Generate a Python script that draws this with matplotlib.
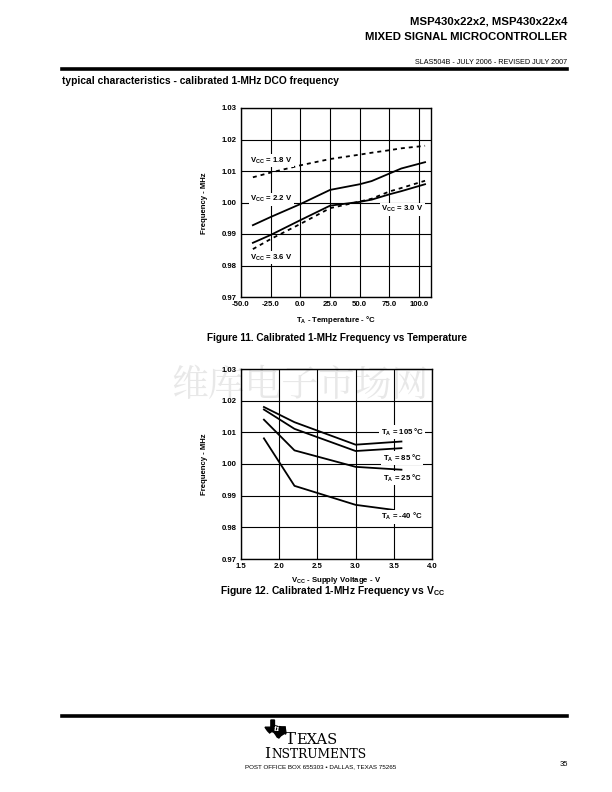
import numpy as np
import matplotlib
matplotlib.use("Agg")
import matplotlib.pyplot as plt
from matplotlib.patches import Polygon

plt.rcParams['font.family'] = ['Liberation Sans', 'DejaVu Sans']
plt.rcParams['font.weight'] = 'bold'
plt.rcParams['axes.unicode_minus'] = False
plt.rcParams['mathtext.fontset'] = 'custom'
plt.rcParams['mathtext.rm'] = 'Liberation Sans:bold'
plt.rcParams['mathtext.default'] = 'rm'

# Figure 11 data: frequency vs temperature
temp_c = [-40, -25, 0, 25, 50, 60, 75, 85, 105]
f_vcc18 = [1.0080, 1.0095, 1.0118, 1.0138, 1.0152, 1.0158, 1.0166, 1.0172, 1.0180]
f_vcc22 = [0.9928, 0.9954, 0.9995, 1.0040, 1.0058, 1.0068, 1.0092, 1.0108, 1.0128]
f_vcc30 = [0.9872, 0.9897, 0.9944, 0.9990, 1.0002, 1.0009, 1.0026, 1.0036, 1.0058]
f_vcc36 = [0.9852, 0.9884, 0.9932, 0.9982, 1.0003, 1.0012, 1.0035, 1.0046, 1.0069]

# Figure 12 data: frequency vs supply voltage
vcc = [1.8, 2.2, 3.0, 3.6]
vcc_m40 = [1.8, 2.2, 3.0, 3.5]
f_t105 = [1.0180, 1.0132, 1.0061, 1.0071]
f_t85 = [1.0172, 1.0111, 1.0041, 1.0050]
f_t25 = [1.0140, 1.0043, 0.9991, 0.9982]
f_tm40 = [1.0081, 0.9931, 0.9871, 0.9855]

yticks = [0.97, 0.98, 0.99, 1.00, 1.01, 1.02, 1.03]
xticks11 = [-50, -25, 0, 25, 50, 75, 100]
xticks12 = [1.5, 2.0, 2.5, 3.0, 3.5, 4.0]

W, H = 612, 792
fig = plt.figure(figsize=(W / 100, H / 100), dpi=100)


def fx(x):
    return x / W


def fy(y):
    return 1 - y / H


def px_axes(l, t, r, b):
    ax = fig.add_axes([fx(l), fy(b), (r - l) / W, (b - t) / H])
    ax.patch.set_alpha(0)
    return ax


def style_axes(ax, xticks, xlabels):
    ax.set_ylim(0.97, 1.03)
    ax.set_yticks(yticks)
    ax.set_yticklabels([f"{v:.2f}" for v in yticks])
    ax.set_xticks(xticks)
    ax.set_xticklabels(xlabels)
    ax.tick_params(length=0, labelsize=5.6, pad=3)
    ax.grid(True, color="black", linewidth=0.8)
    for s in ax.spines.values():
        s.set_linewidth(1.0)


dash = (0, (2.2, 2.2))
lw = 1.3
box = dict(facecolor="white", edgecolor="none", pad=1.0)

# ---- header ----
fig.text(fx(567), fy(22), "MSP430x22x2, MSP430x22x4", ha="right", va="center", fontsize=8.2)
fig.text(fx(567), fy(37), "MIXED SIGNAL MICROCONTROLLER", ha="right", va="center", fontsize=8.2)
fig.text(fx(567), fy(62), "SLAS504B - JULY 2006 - REVISED JULY 2007", ha="right",
         va="center", fontsize=5.2, fontweight="normal")
fig.add_artist(plt.Line2D([fx(62), fx(567)], [fy(68.5), fy(68.5)], color="black", lw=2.6))
fig.text(fx(62), fy(81), "typical characteristics - calibrated 1-MHz DCO frequency",
         ha="left", va="center", fontsize=7.4)

# ---- Figure 11 ----
ax1 = px_axes(241, 108, 431, 297)
ax1.plot(temp_c, f_vcc18, color="black", lw=lw, ls=dash)
ax1.plot(temp_c, f_vcc22, color="black", lw=lw)
ax1.plot(temp_c, f_vcc30, color="black", lw=lw)
ax1.plot(temp_c, f_vcc36, color="black", lw=lw, ls=dash)
ax1.set_xlim(-50, 110)
style_axes(ax1, xticks11, [f"{v:.1f}" for v in xticks11])
ax1.text(-24.7, 1.0132, r"V$_{CC}$ = 1.8 V", fontsize=5.6, ha="center", va="center", bbox=box)
ax1.text(-24.7, 1.0011, r"V$_{CC}$ = 2.2 V", fontsize=5.6, ha="center", va="center", bbox=box)
ax1.text(85.6, 0.9979, r"V$_{CC}$ = 3.0 V", fontsize=5.6, ha="center", va="center", bbox=box)
ax1.text(-24.7, 0.9824, r"V$_{CC}$ = 3.6 V", fontsize=5.6, ha="center", va="center", bbox=box)
fig.text(fx(204), fy(203), "Frequency - MHz", rotation=90, ha="center", va="center", fontsize=5.6)
fig.text(fx(336), fy(320), r"T$_A$ - Temperature - °C", ha="center", va="center", fontsize=5.6)
fig.text(fx(337), fy(338), "Figure 11. Calibrated 1-MHz Frequency vs Temperature",
         ha="center", va="center", fontsize=7.2)

# ---- watermark ----
fig.text(fx(300), fy(386), "维库电子市场网", ha="center", va="center", fontsize=26.5,
         color="#e8e8e8", fontweight="normal", zorder=-5,
         family=['Noto Serif CJK SC', 'Noto Sans CJK SC'])

# ---- Figure 12 ----
ax2 = px_axes(241, 369, 432, 559)
ax2.plot(vcc, f_t105, color="black", lw=lw)
ax2.plot(vcc, f_t85, color="black", lw=lw)
ax2.plot(vcc, f_t25, color="black", lw=lw)
ax2.plot(vcc_m40, f_tm40, color="black", lw=lw)
ax2.set_xlim(1.5, 4.0)
style_axes(ax2, xticks12, [f"{v:.1f}" for v in xticks12])
ax2.text(3.61, 1.0101, r"T$_A$ = 105 °C", fontsize=5.6, ha="center", va="center", bbox=box, clip_on=False)
ax2.text(3.61, 1.0019, r"T$_A$ = 85 °C", fontsize=5.6, ha="center", va="center", bbox=box)
ax2.text(3.61, 0.9956, r"T$_A$ = 25 °C", fontsize=5.6, ha="center", va="center", bbox=box)
ax2.text(3.61, 0.9833, r"T$_A$ = -40 °C", fontsize=5.6, ha="center", va="center", bbox=box)
fig.text(fx(204), fy(464), "Frequency - MHz", rotation=90, ha="center", va="center", fontsize=5.6)
fig.text(fx(336), fy(580), r"V$_{CC}$ - Supply Voltage - V", ha="center", va="center", fontsize=5.6)
fig.text(fx(333), fy(591), r"Figure 12. Calibrated 1-MHz Frequency vs V$_{CC}$",
         ha="center", va="center", fontsize=7.4)

# ---- footer ----
fig.add_artist(plt.Line2D([fx(62), fx(567)], [fy(715.5), fy(715.5)], color="black", lw=2.6))
# rough Texas outline for the logo
tx = [0.28, 0.45, 0.45, 0.62, 0.80, 0.96, 0.97, 1.0, 0.88, 0.75, 0.66, 0.58, 0.50,
      0.42, 0.32, 0.22, 0.12, 0.0, 0.28]
ty = [0.0, 0.0, 0.30, 0.36, 0.38, 0.38, 0.50, 0.72, 0.78, 0.88, 1.0, 0.95, 0.80,
      0.68, 0.64, 0.72, 0.60, 0.40, 0.40]
logo = [(fx(265 + 21 * a), fy(720 + 18 * b)) for a, b in zip(tx, ty)]
fig.add_artist(Polygon(logo, closed=True, transform=fig.transFigure, color="black"))
fig.text(fx(277), fy(729), "ti", ha="center", va="center", fontsize=5.5, color="white",
         style="italic", family=['DejaVu Serif'])
serif = ['DejaVu Serif']
fig.text(fx(285), fy(744.5), "T", ha="left", va="baseline", fontsize=12, family=serif, fontweight="normal")
fig.text(fx(296), fy(744.5), "EXAS", ha="left", va="baseline", fontsize=10.5, family=serif, fontweight="normal")
fig.text(fx(264), fy(758), "I", ha="left", va="baseline", fontsize=11, family=serif, fontweight="normal")
fig.text(fx(271), fy(758), "NSTRUMENTS", ha="left", va="baseline", fontsize=8.8, family=serif, fontweight="normal")
fig.text(fx(321), fy(767), "POST OFFICE BOX 655303 \u2022 DALLAS, TEXAS 75265", ha="center",
         va="center", fontsize=4.5, fontweight="normal")
fig.text(fx(568), fy(765), "35", ha="right", va="center", fontsize=5.5, fontweight="normal")

fig.savefig("out.png", dpi=100)
